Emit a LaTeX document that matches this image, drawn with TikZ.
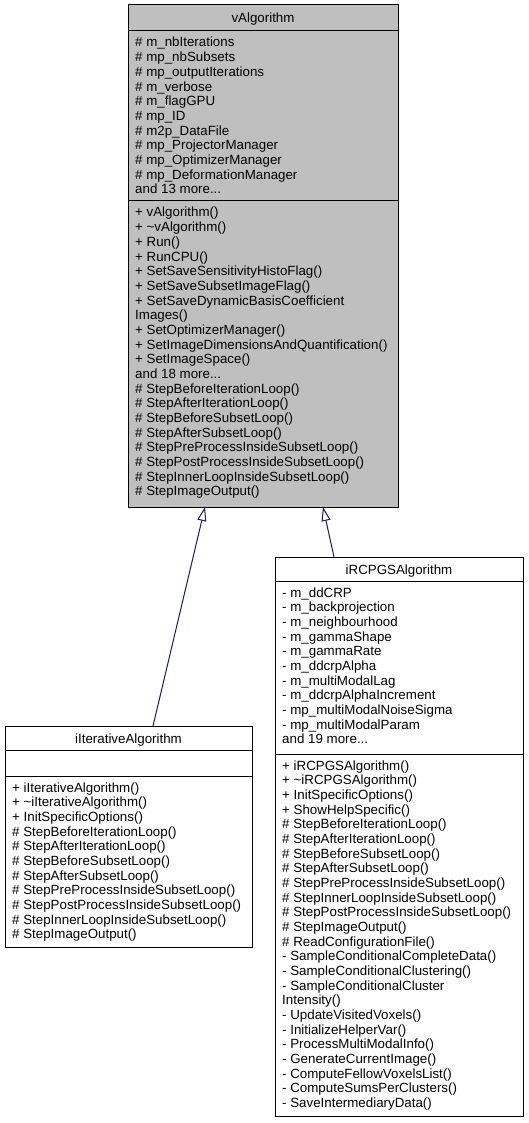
\documentclass[tikz,border=0pt]{standalone}
\usepackage{fontspec}
\setmainfont{Liberation Sans}
\usetikzlibrary{arrows.meta,calc}
\definecolor{grey75}{HTML}{BFBFBF}
\definecolor{edgeblue}{HTML}{191970}
\newcommand{\mylines}[1]{\begin{tabular}[t]{@{}l@{}}#1\end{tabular}}
\begin{document}
\begin{tikzpicture}[x=1pt,y=-1pt,
  box/.style={draw=black,line width=1pt,rectangle,anchor=north west,inner sep=0pt,outer sep=0pt},
  txt/.style={inner sep=0pt,anchor=base west,font=\fontsize{13.33}{14.67}\selectfont},
  ttl/.style={inner sep=0pt,anchor=base,font=\fontsize{13.33}{14.67}\selectfont},
  sep/.style={draw=black,line width=1pt},
  inh/.style={draw=edgeblue,line width=1pt,-{Triangle[length=14pt,width=9pt,fill=white]}}
]
\useasboundingbox (0,0) rectangle (528,1123);

% vAlgorithm
\node[box,fill=grey75,minimum width=270pt,minimum height=502pt] (valg) at (128,5) {};
\draw[sep] (128,31) -- (398,31);
\draw[sep] (128,201) -- (398,201);
\node[ttl] (valgT) at (263,22.5) {vAlgorithm};
\node[txt] (valgA) at (135,47) {\mylines{%
\# m\_nbIterations\\
\# mp\_nbSubsets\\
\# mp\_outputIterations\\
\# m\_verbose\\
\# m\_flagGPU\\
\# mp\_ID\\
\# m2p\_DataFile\\
\# mp\_ProjectorManager\\
\# mp\_OptimizerManager\\
\# mp\_DeformationManager\\
and 13 more...}};
\node[txt] (valgM) at (135,217) {\mylines{%
+ vAlgorithm()\\
+ \textasciitilde vAlgorithm()\\
+ Run()\\
+ RunCPU()\\
+ SetSaveSensitivityHistoFlag()\\
+ SetSaveSubsetImageFlag()\\
+ SetSaveDynamicBasisCoefficient\\
Images()\\
+ SetOptimizerManager()\\
+ SetImageDimensionsAndQuantification()\\
+ SetImageSpace()\\
and 18 more...\\
\# StepBeforeIterationLoop()\\
\# StepAfterIterationLoop()\\
\# StepBeforeSubsetLoop()\\
\# StepAfterSubsetLoop()\\
\# StepPreProcessInsideSubsetLoop()\\
\# StepPostProcessInsideSubsetLoop()\\
\# StepInnerLoopInsideSubsetLoop()\\
\# StepImageOutput()}};

% iIterativeAlgorithm
\node[box,fill=white,minimum width=247pt,minimum height=221pt] (iiter) at (5,726) {};
\draw[sep] (5,750) -- (252,750);
\draw[sep] (5,776) -- (252,776);
\node[ttl] (iiterT) at (128.5,743) {iIterativeAlgorithm};
\node[txt] (iiterM) at (12,792) {\mylines{%
+ iIterativeAlgorithm()\\
+ \textasciitilde iIterativeAlgorithm()\\
+ InitSpecificOptions()\\
\# StepBeforeIterationLoop()\\
\# StepAfterIterationLoop()\\
\# StepBeforeSubsetLoop()\\
\# StepAfterSubsetLoop()\\
\# StepPreProcessInsideSubsetLoop()\\
\# StepPostProcessInsideSubsetLoop()\\
\# StepInnerLoopInsideSubsetLoop()\\
\# StepImageOutput()}};

% iRCPGSAlgorithm
\node[box,fill=white,minimum width=248pt,minimum height=559pt] (ircpgs) at (275,557) {};
\draw[sep] (275,581) -- (523,581);
\draw[sep] (275,754) -- (523,754);
\node[ttl] (ircpgsT) at (399,574) {iRCPGSAlgorithm};
\node[txt] (ircpgsA) at (282,597) {\mylines{%
- m\_ddCRP\\
- m\_backprojection\\
- m\_neighbourhood\\
- m\_gammaShape\\
- m\_gammaRate\\
- m\_ddcrpAlpha\\
- m\_multiModalLag\\
- m\_ddcrpAlphaIncrement\\
- mp\_multiModalNoiseSigma\\
- mp\_multiModalParam\\
and 19 more...}};
\node[txt] (ircpgsM) at (282,770) {\mylines{%
+ iRCPGSAlgorithm()\\
+ \textasciitilde iRCPGSAlgorithm()\\
+ InitSpecificOptions()\\
+ ShowHelpSpecific()\\
\# StepBeforeIterationLoop()\\
\# StepAfterIterationLoop()\\
\# StepBeforeSubsetLoop()\\
\# StepAfterSubsetLoop()\\
\# StepPreProcessInsideSubsetLoop()\\
\# StepInnerLoopInsideSubsetLoop()\\
\# StepPostProcessInsideSubsetLoop()\\
\# StepImageOutput()\\
\# ReadConfigurationFile()\\
- SampleConditionalCompleteData()\\
- SampleConditionalClustering()\\
- SampleConditionalCluster\\
Intensity()\\
- UpdateVisitedVoxels()\\
- InitializeHelperVar()\\
- ProcessMultiModalInfo()\\
- GenerateCurrentImage()\\
- ComputeFellowVoxelsList()\\
- ComputeSumsPerClusters()\\
- SaveIntermediaryData()}};

% inheritance
\draw[inh] ($(iiter.north west)+(148,0)$) -- ($(valg.south west)+(77,0)$);
\draw[inh] ($(ircpgs.north west)+(59,0)$) -- ($(valg.south west)+(195,0)$);
\end{tikzpicture}
\end{document}
